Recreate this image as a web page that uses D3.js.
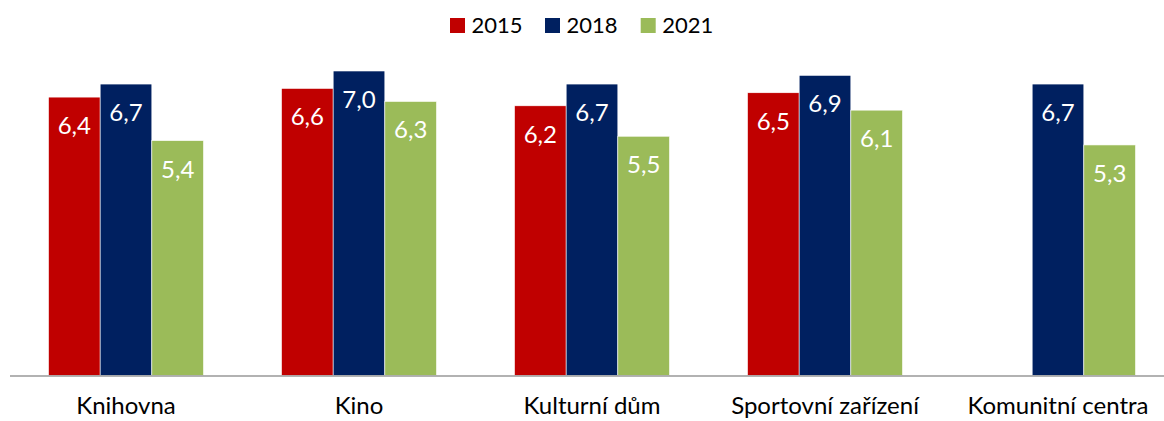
<!DOCTYPE html>
<html><head><meta charset="utf-8">
<script src="https://cdn.jsdelivr.net/npm/d3@7"></script>
<style>body{margin:0;background:#fff}svg{display:block}text{font-family:Lato,"Open Sans",sans-serif}</style>
</head><body><svg id="c" width="1164" height="421"></svg>
<script>
const categories = ["Knihovna","Kino","Kulturní dům","Sportovní zařízení","Komunitní centra"];
const seriesNames = ["2015","2018","2021"];
const values2015 = [6.4, 6.6, 6.2, 6.5, null];
const values2018 = [6.7, 7.0, 6.7, 6.9, 6.7];
const values2021 = [5.4, 6.3, 5.5, 6.1, 5.3];
const colors = ["#C00000","#002060","#9BBB59"];

const series = [values2015, values2018, values2021];
const svg = d3.select("#c");
const base = 375.5;
const x0 = d3.scaleBand().domain(categories).range([9.5, 1174.5]).padding(0);
const groupW = 155;
const x1 = d3.scaleBand().domain(seriesNames).range([0, groupW]).padding(0);
const y = d3.scaleLinear().domain([0, 8]).range([base, base - 8*43.5]);

const g = svg.append("g");
categories.forEach((c, i) => {
  const gx = x0(c) + (x0.bandwidth() - groupW) / 2;
  seriesNames.forEach((s, j) => {
    const v = series[j][i];
    if (v == null) return;
    g.append("rect")
      .attr("x", gx + x1(s)).attr("y", y(v))
      .attr("width", x1.bandwidth()).attr("height", base - y(v))
      .attr("fill", colors[j]).attr("stroke", "#fff").attr("stroke-width", 0.6);
    g.append("text")
      .attr("x", gx + x1(s) + x1.bandwidth()/2).attr("y", y(v) + 37)
      .attr("text-anchor", "middle").attr("fill", "#fff")
      .attr("font-size", 24).text(d3.format(".1f")(v).replace(".", ","));
  });
});

// x axis
const axis = svg.append("g").attr("transform", `translate(0,${base})`)
  .call(d3.axisBottom(x0).tickSize(0).tickPadding(0));
axis.select(".domain").attr("stroke", "#999").attr("stroke-width", 1.5);
axis.selectAll("text").attr("font-size", 24).attr("fill", "#000")
  .attr("dy", 0).attr("y", 38).style("font-family", "Lato, 'Open Sans', sans-serif");

// legend
const legX = [450, 545, 640.7];
seriesNames.forEach((s, j) => {
  svg.append("rect").attr("x", legX[j]).attr("y", 18).attr("width", 15).attr("height", 15).attr("fill", colors[j]);
  svg.append("text").attr("x", legX[j] + 21.5).attr("y", 33).attr("font-size", 22).attr("fill", "#000").text(s);
});
</script></body></html>
